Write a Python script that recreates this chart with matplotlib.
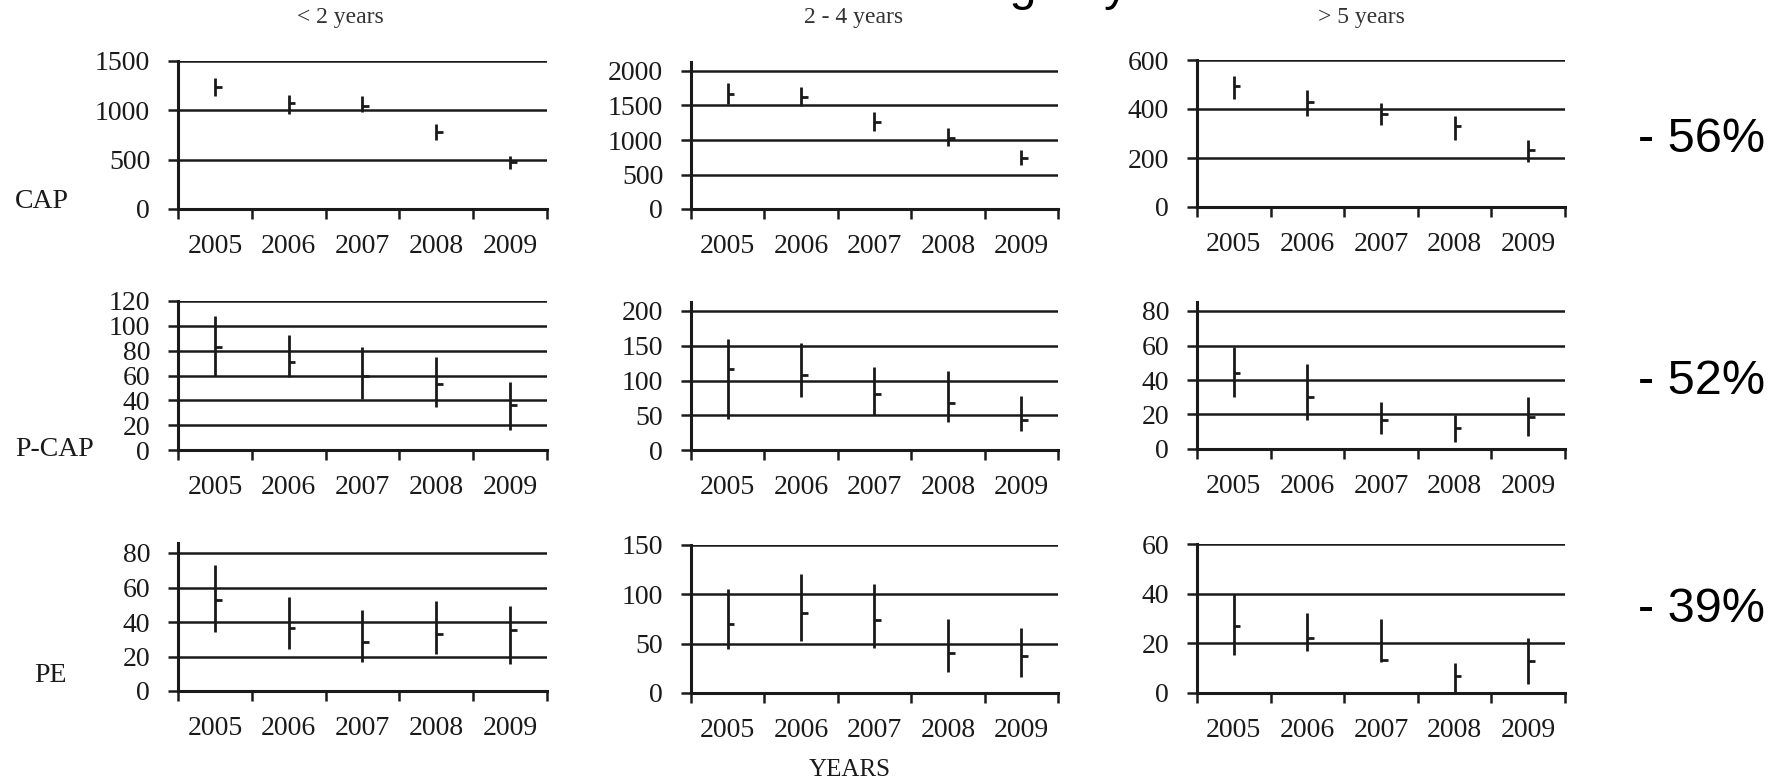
import matplotlib
matplotlib.use('Agg')
import matplotlib.pyplot as plt

# --- data (high / low / close per year), rows = age groups <2, 2-4, >5 ---
years = ['2005', '2006', '2007', '2008', '2009']
age_groups = ['< 2 years', '2 - 4 years', '> 5 years']
metrics = ['CAP', 'P-CAP', 'PE']
changes = ['- 56%', '- 52%', '- 39%']

cap_high = [[1328, 1159, 1142, 865, 540], [1822, 1773, 1412, 1171, 858], [535, 478, 426, 372, 272]]
cap_low = [[1142, 966, 980, 696, 405], [1523, 1494, 1137, 906, 641], [440, 372, 334, 274, 182]]
cap_close = [[1236, 1074, 1047, 777, 473], [1663, 1619, 1267, 1036, 737], [494, 429, 379, 329, 231]]

pcap_high = [[108, 93, 83, 75, 55], [160, 154, 119, 113, 78], [59, 49.5, 27.4, 19.7, 30.3]]
pcap_low = [[60, 59, 41, 35, 16], [44, 76, 50, 40, 28], [30.3, 17.1, 8.7, 3.9, 7.5]]
pcap_close = [[83, 71, 60, 53, 36], [117, 108, 80, 68, 43], [44.3, 30.3, 16.8, 11.9, 18.3]]

pe_high = [[73, 54.5, 46.8, 52.2, 49.1], [105, 121, 110, 75, 66], [39.9, 32.4, 29.8, 12.1, 22]]
pe_low = [[34.4, 24.5, 16.8, 21.3, 15.5], [45, 53, 46, 21, 16], [15.2, 17, 12.5, 0, 3.8]]
pe_close = [[52.6, 36.7, 28.4, 32.9, 35.6], [70, 81, 74, 41, 37], [27, 22.1, 13.2, 7, 12.8]]

# y axis max and step for every panel
y_max = [[1500, 2000, 600], [120, 200, 80], [80, 150, 60]]
y_step = [[500, 500, 200], [20, 50, 20], [20, 50, 20]]

series = [(cap_high, cap_low, cap_close),
          (pcap_high, pcap_low, pcap_close),
          (pe_high, pe_low, pe_close)]

# --- layout in pixels of the 1781x781 picture ---
W, H = 1781, 781
col_x = [(178, 547), (691, 1058), (1197, 1565)]
# (y of zero line, y of top tick, extra spine above top tick)
row_y = [[(209, 61, 0), (209, 71, 9), (207, 60, 0)],
         [(450, 301, 0), (450, 311, 9), (449, 311, 9)],
         [(691, 553, 10), (693, 545, 0), (693, 544, 0)]]

serif = 'Liberation Serif'
ink = '#1a1a1a'

fig = plt.figure(figsize=(W / 100, H / 100), dpi=100)

for r in range(3):
    hi_all, lo_all, cl_all = series[r]
    for c in range(3):
        x0, x1 = col_x[c]
        yz, yt, ext = row_y[r][c]
        top = yt - ext
        ax = fig.add_axes([x0 / W, 1 - yz / H, (x1 - x0) / W, (yz - top) / H])
        ymax = y_max[r][c]
        ylim_top = ymax * (yz - top) / (yz - yt)
        ax.set_ylim(0, ylim_top)
        ax.set_xlim(-0.5, 4.5)

        xs = list(range(len(years)))
        ax.vlines(xs, lo_all[c], hi_all[c], color=ink, lw=2.0, zorder=3)
        ax.hlines(cl_all[c], [x for x in xs], [x + 0.09 for x in xs], color=ink, lw=2.0, zorder=3)

        yt_vals = list(range(0, ymax + 1, y_step[r][c]))
        ax.set_yticks(yt_vals)
        ax.set_yticklabels([str(v) for v in yt_vals], family=serif, fontsize=20, color=ink)
        for v in yt_vals[1:]:
            ax.axhline(v, color=ink, lw=1.8, zorder=1)
        ax.tick_params(axis='y', direction='out', length=7, width=1.8, pad=13, colors=ink)

        ax.set_xticks(xs)
        ax.set_xticklabels(years, family=serif, fontsize=20, color=ink)
        ax.set_xticks([i - 0.5 for i in range(6)], minor=True)
        ax.tick_params(axis='x', which='major', length=0, pad=18, colors=ink)
        ax.tick_params(axis='x', which='minor', direction='out', length=7, width=1.8, colors=ink)

        for s in ['top', 'right']:
            ax.spines[s].set_visible(False)
        ax.spines['left'].set_linewidth(2.2)
        ax.spines['bottom'].set_linewidth(2.2)
        ax.spines['left'].set_color(ink)
        ax.spines['bottom'].set_color(ink)
        ax.patch.set_alpha(0)

    # row labels and change text
    lab_y = [202, 450, 676][r]
    lab_x = [15, 15, 34][r]
    fig.text(lab_x / W, 1 - lab_y / H, metrics[r], family=serif, fontsize=20,
             color=ink, ha='left', va='center')
    ch_y = [140, 382, 610][r]
    fig.text(1638 / W, 1 - ch_y / H, changes[r], family='Liberation Sans', fontsize=35,
             color='black', ha='left', va='center')

for c in range(3):
    cx = [340, 854, 1361][c]
    fig.text(cx / W, 1 - 17 / H, age_groups[c], family=serif, fontsize=17,
             color='#333333', ha='center', va='center')

fig.text(850 / W, 1 - 770 / H, 'YEARS', family=serif, fontsize=18, color=ink,
         ha='center', va='center')

# slide title, cut off at the top edge of the picture
fig.text(687 / W, 1.0, 'Trend according to years', family='Liberation Sans',
         fontsize=35, color='black', ha='left', va='baseline')

fig.savefig('out.png', dpi=100)
